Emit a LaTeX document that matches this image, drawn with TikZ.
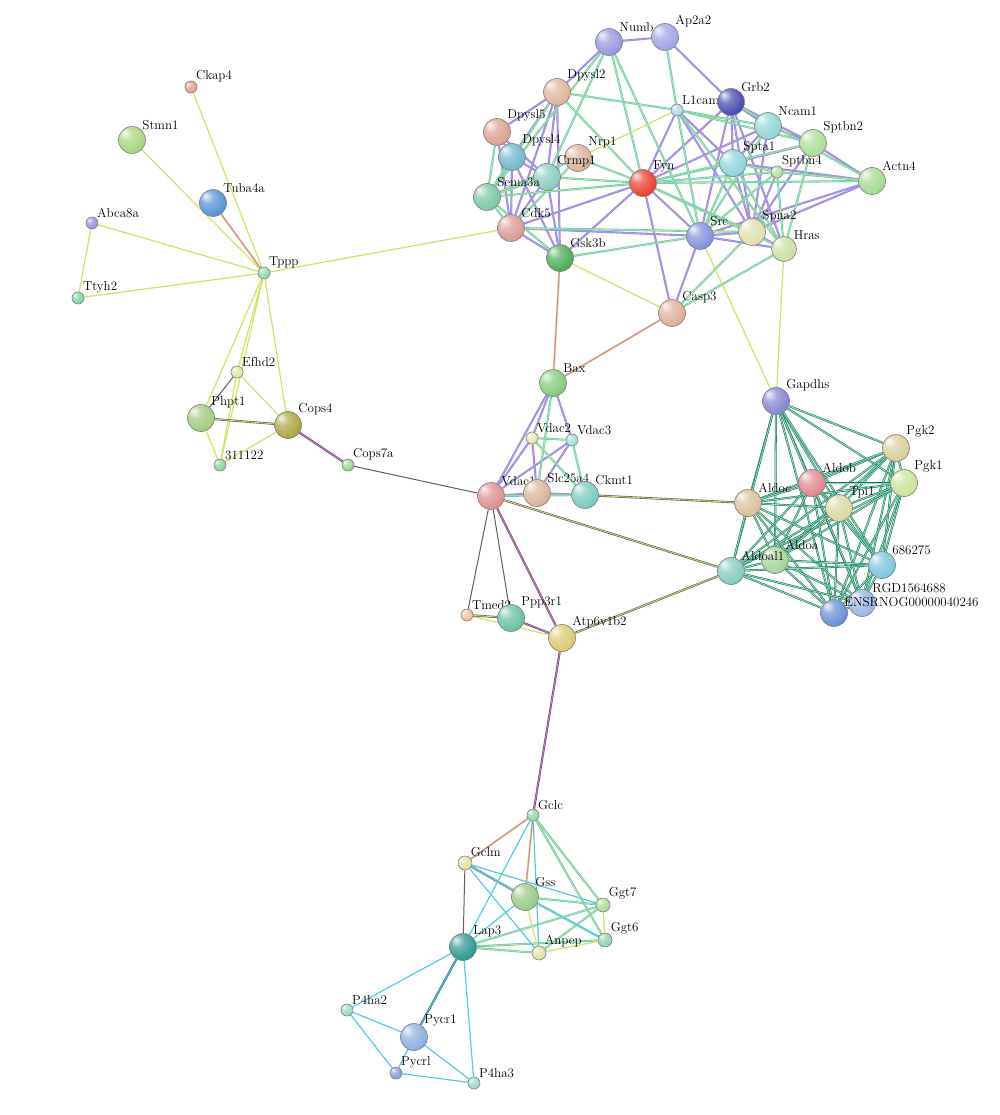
\documentclass[tikz,border=0pt]{standalone}
\usepackage{fontspec}
\usetikzlibrary{backgrounds}

\definecolor{tm}{RGB}{205,228,100}
\definecolor{ex}{RGB}{222,104,222}
\definecolor{db}{RGB}{88,200,222}
\definecolor{co}{RGB}{95,95,95}
\definecolor{gn}{RGB}{40,150,60}
\definecolor{strc}{RGB}{200,200,200}
\pgfdeclareradialshading[strc]{gene}{\pgfqpoint{-14bp}{14bp}}{%
  color(0bp)=(strc!12!white); color(12bp)=(strc!70!white);
  color(30bp)=(strc); color(41bp)=(strc!88!black); color(50bp)=(strc!60!black)}

\tikzset{
  prot/.style={circle,inner sep=0pt,minimum size=27pt,draw=black!50,line width=.6pt,shading=gene},
  mid/.style={prot,minimum size=14pt},
  dot/.style={prot,minimum size=12pt},
  col/.code n args={3}{\definecolor{strc}{RGB}{#1,#2,#3}},
  lab/.style={font=\fontsize{13}{13}\selectfont,inner sep=.5pt},
  one/.style={draw=#1,line width=1.2pt},
  two/.style 2 args={draw=#1,double=#2,line width=.65pt,double distance=.8pt},
  gly/.style={draw=gn!80!black,double=db!70,line width=.55pt,double distance=.9pt}
}

\begin{document}
\begin{tikzpicture}[x=1pt,y=-1pt]
\useasboundingbox (0,0) rectangle (1000,1115);

% neuronal / spectrin cluster
\node [prot,col={150}{150}{222},label={[lab]45:Numb}] (Numb) at (609,42) {};
\node [prot,col={160}{162}{228},label={[lab]45:Ap2a2}] (Ap2a2) at (665,37) {};
\node [prot,col={222}{180}{152},label={[lab]45:Dpysl2}] (Dpysl2) at (557,92) {};
\node [dot,col={175}{212}{232},label={[lab]45:L1cam}] (L1cam) at (677,110) {};
\node [prot,col={70}{72}{175},label={[lab]45:Grb2}] (Grb2) at (731,102) {};
\node [prot,col={145}{212}{212},label={[lab]45:Ncam1}] (Ncam1) at (768,126) {};
\node [prot,col={170}{220}{150},label={[lab]45:Sptbn2}] (Sptbn2) at (813,143) {};
\node [prot,col={165}{218}{145},label={[lab]45:Actn4}] (Actn4) at (872,181) {};
\node [prot,col={218}{160}{142},label={[lab]45:Dpysl5}] (Dpysl5) at (497,132) {};
\node [prot,col={112}{182}{202},label={[lab]45:Dpysl4}] (Dpysl4) at (512,157) {};
\node [prot,col={218}{178}{152},label={[lab]45:Nrp1}] (Nrp1) at (578,158) {};
\node [prot,col={135}{205}{192},label={[lab]45:Crmp1}] (Crmp1) at (547,177) {};
\node [prot,col={122}{198}{162},label={[lab]45:Sema3a}] (Sema3a) at (487,197) {};
\node [prot,col={218}{152}{146},label={[lab]45:Cdk5}] (Cdk5) at (511,228) {};
\node [prot,col={72}{172}{82},label={[lab]45:Gsk3b}] (Gsk3b) at (560,258) {};
\node [prot,col={232}{62}{42},label={[lab]45:Fyn}] (Fyn) at (643,183) {};
\node [prot,col={142}{212}{218},label={[lab]45:Spta1}] (Spta1) at (733,163) {};
\node [dot,col={172}{226}{152},label={[lab]45:Sptbn4}] (Sptbn4) at (777,172) {};
\node [prot,col={132}{142}{222},label={[lab]45:Src}] (Src) at (700,236) {};
\node [prot,col={222}{222}{172},label={[lab]45:Spna2}] (Spna2) at (752,232) {};
\node [prot,minimum size=25pt,col={202}{222}{162},label={[lab]45:Hras}] (Hras) at (784,249) {};
\node [prot,col={222}{172}{152},label={[lab]45:Casp3}] (Casp3) at (672,313) {};

% tubulin cluster
\node [dot,col={232}{152}{142},label={[lab]45:Ckap4}] (Ckap4) at (191,87) {};
\node [prot,col={165}{212}{125},label={[lab]45:Stmn1}] (Stmn1) at (132,140) {};
\node [prot,col={85}{145}{212},label={[lab]45:Tuba4a}] (Tuba4a) at (213,203) {};
\node [dot,col={162}{132}{222},label={[lab]45:Abca8a}] (Abca8a) at (92,223) {};
\node [dot,col={142}{216}{172},label={[lab]45:Tppp}] (Tppp) at (264,273) {};
\node [dot,col={122}{212}{162},label={[lab]45:Ttyh2}] (Ttyh2) at (78,298) {};
\node [dot,col={226}{226}{162},label={[lab]45:Efhd2}] (Efhd2) at (237,372) {};
\node [prot,col={162}{202}{122},label={[lab]45:Phpt1}] (Phpt1) at (201,418) {};
\node [prot,col={172}{162}{62},label={[lab]45:Cops4}] (Cops4) at (288,425) {};
\node [dot,col={132}{212}{152},label={[lab]45:311122}] (R311122) at (220,465) {};
\node [dot,col={152}{212}{142},label={[lab]45:Cops7a}] (Cops7a) at (348,465) {};

% mitochondrial cluster
\node [prot,col={132}{202}{122},label={[lab]45:Bax}] (Bax) at (553,383) {};
\node [dot,col={230}{230}{172},label={[lab]45:Vdac2}] (Vdac2) at (532,438) {};
\node [dot,col={152}{222}{212},label={[lab]45:Vdac3}] (Vdac3) at (572,440) {};
\node [prot,col={222}{142}{142},label={[lab]45:Vdac1}] (Vdac1) at (491,496) {};
\node [prot,col={216}{180}{152},label={[lab]45:Slc25a4}] (Slc25a4) at (537,493) {};
\node [prot,col={122}{202}{192},label={[lab]45:Ckmt1}] (Ckmt1) at (585,495) {};
\node [dot,col={242}{192}{142},label={[lab]45:Tmed2}] (Tmed2) at (467,615) {};
\node [prot,col={102}{192}{162},label={[lab]45:Ppp3r1}] (Ppp3r1) at (511,618) {};
\node [prot,col={216}{202}{112},label={[lab]45:Atp6v1b2}] (Atp6v1b2) at (562,638) {};

% glycolysis cluster
\node [prot,col={132}{132}{212},label={[lab]45:Gapdhs}] (Gapdhs) at (776,401) {};
\node [prot,col={216}{206}{152},label={[lab]45:Pgk2}] (Pgk2) at (896,448) {};
\node [prot,col={202}{226}{152},label={[lab]45:Pgk1}] (Pgk1) at (904,483) {};
\node [prot,col={226}{132}{142},label={[lab]45:Aldob}] (Aldob) at (812,483) {};
\node [prot,col={216}{192}{152},label={[lab]45:Aldoc}] (Aldoc) at (748,503) {};
\node [prot,col={216}{216}{162},label={[lab]45:Tpi1}] (Tpi1) at (839,508) {};
\node [prot,col={162}{212}{152},label={[lab]45:Aldoa}] (Aldoa) at (775,560) {};
\node [prot,col={132}{202}{192},label={[lab]45:Aldoal1}] (Aldoal1) at (731,571) {};
\node [prot,col={122}{196}{222},label={[lab]45:686275}] (N686275) at (882,565) {};
\node [prot,col={152}{182}{226},label={[lab]45:RGD1564688}] (RGD) at (862,603) {};
\node [prot,col={102}{142}{212},label={[lab,yshift=-4pt]45:ENSRNOG00000040246}] (ENS) at (834,613) {};

% glutathione cluster
\node [dot,col={142}{212}{162},label={[lab]45:Gclc}] (Gclc) at (533,815) {};
\node [mid,col={226}{222}{162},label={[lab]45:Gclm}] (Gclm) at (465,863) {};
\node [prot,col={152}{202}{132},label={[lab]45:Gss}] (Gss) at (525,897) {};
\node [mid,col={172}{216}{152},label={[lab]45:Ggt7}] (Ggt7) at (603,905) {};
\node [mid,col={142}{212}{172},label={[lab]45:Ggt6}] (Ggt6) at (605,940) {};
\node [prot,col={42}{152}{142},label={[lab]45:Lap3}] (Lap3) at (463,947) {};
\node [mid,col={222}{226}{162},label={[lab]45:Anpep}] (Anpep) at (539,953) {};
\node [dot,col={152}{216}{202},label={[lab]45:P4ha2}] (P4ha2) at (347,1010) {};
\node [prot,col={142}{172}{222},label={[lab]45:Pycr1}] (Pycr1) at (414,1037) {};
\node [dot,col={132}{152}{212},label={[lab]45:Pycrl}] (Pycrl) at (396,1073) {};
\node [dot,col={152}{216}{202},label={[lab]45:P4ha3}] (P4ha3) at (474,1083) {};

\begin{scope}[on background layer]
% edges: experiments + databases
\foreach \a/\b in {Numb/Ap2a2,Ap2a2/Grb2,Numb/Dpysl2,Dpysl2/Dpysl5,Dpysl2/Dpysl4,Dpysl2/Crmp1,
  Dpysl5/Dpysl4,Dpysl5/Crmp1,Dpysl4/Crmp1,Dpysl4/Cdk5,Dpysl5/Cdk5,Crmp1/Cdk5,Dpysl2/Cdk5,
  Cdk5/Gsk3b,Dpysl2/Gsk3b,Crmp1/Gsk3b,Dpysl4/Gsk3b,Fyn/Src,Fyn/Grb2,Fyn/L1cam,Grb2/Src,
  Grb2/Ncam1,Grb2/Spna2,Grb2/Hras,Src/Spna2,Src/Hras,Spta1/Spna2,Spta1/Sptbn2,Sptbn2/Spna2,
  Sptbn2/Actn4,Spna2/Actn4,Spta1/Actn4,Ncam1/Sptbn2,Ncam1/Spna2,Spna2/Hras,Grb2/Sptbn2,
  Fyn/Ncam1,Cdk5/Src,Fyn/Cdk5,Gsk3b/Fyn,Src/Casp3,Fyn/Casp3,L1cam/Spna2,L1cam/Spta1,
  Ncam1/Spta1,Sptbn4/Spna2,Src/Actn4,Grb2/Spta1,
  Bax/Vdac2,Bax/Vdac3,Bax/Vdac1,Vdac2/Vdac1,Vdac3/Vdac1,Vdac1/Slc25a4,Slc25a4/Ckmt1,
  Vdac2/Slc25a4,Vdac3/Slc25a4}
  \draw [two={ex}{db}] (\a) -- (\b);
% edges: databases + text mining
\foreach \a/\b in {Numb/Fyn,Numb/Crmp1,Numb/Sema3a,Ap2a2/L1cam,Dpysl2/L1cam,Dpysl2/Sema3a,
  Dpysl5/Sema3a,Dpysl4/Sema3a,Crmp1/Sema3a,Sema3a/Cdk5,Sema3a/Gsk3b,Nrp1/Sema3a,Nrp1/Fyn,
  Nrp1/Cdk5,Sema3a/Fyn,Crmp1/Fyn,Dpysl2/Fyn,Fyn/Spta1,Fyn/Sptbn4,Fyn/Spna2,Fyn/Hras,
  Fyn/Actn4,Fyn/Sptbn2,L1cam/Src,L1cam/Ncam1,L1cam/Sptbn2,L1cam/Hras,Ncam1/Src,Spta1/Src,
  Spta1/Hras,Sptbn4/Hras,Sptbn4/Src,Spta1/Sptbn4,Actn4/Sptbn4,Sptbn2/Hras,Grb2/Actn4,
  Cdk5/Spna2,Gsk3b/Src,Hras/Casp3,Spna2/Casp3,Numb/Src,
  Bax/Slc25a4,Vdac2/Vdac3,Vdac2/Ckmt1,Vdac3/Ckmt1,Vdac1/Ckmt1,
  Gclc/Ggt7,Gclc/Ggt6,Gss/Ggt7,Gss/Ggt6,Lap3/Ggt7,Lap3/Anpep,Ggt7/Anpep,Lap3/Ggt6}
  \draw [two={db}{tm}] (\a) -- (\b);
% edges: text mining only
\foreach \a/\b in {Nrp1/L1cam,Gsk3b/Casp3,Src/Gapdhs,Hras/Gapdhs,Tppp/Cdk5,
  Ckap4/Tppp,Stmn1/Tppp,Abca8a/Tppp,Abca8a/Ttyh2,Ttyh2/Tppp,Tppp/Phpt1,Tppp/Efhd2,
  Tppp/R311122,Tppp/Cops4,Efhd2/Cops4,Efhd2/R311122,Phpt1/R311122,R311122/Cops4,
  Tmed2/Atp6v1b2,Gss/Anpep,Ggt6/Anpep,Ggt7/Ggt6}
  \draw [one=tm] (\a) -- (\b);
\foreach \a/\b in {Tuba4a/Tppp,Gsk3b/Bax,Casp3/Bax,Gclc/Gclm,Gclc/Gss}
  \draw [two={tm}{ex}] (\a) -- (\b);
% edges: co-expression
\foreach \a/\b in {Efhd2/Phpt1,Cops7a/Vdac1,Vdac1/Tmed2,Vdac1/Ppp3r1,Gclm/Lap3}
  \draw [draw=co,line width=1pt] (\a) -- (\b);
\foreach \a/\b in {Phpt1/Cops4,Ckmt1/Aldoc,Vdac1/Aldoal1,Atp6v1b2/Aldoal1,Tmed2/Ppp3r1,Gclm/Gss}
  \draw [two={co}{tm}] (\a) -- (\b);
\foreach \a/\b in {Cops4/Cops7a,Vdac1/Atp6v1b2,Ppp3r1/Atp6v1b2,Atp6v1b2/Gclc}
  \draw [two={co}{ex}] (\a) -- (\b);
% glycolysis, all pairs
\foreach \a [count=\i] in {Gapdhs,Pgk2,Pgk1,Aldob,Aldoc,Tpi1,Aldoa,Aldoal1,N686275,RGD,ENS}
  \foreach \b [count=\j] in {Gapdhs,Pgk2,Pgk1,Aldob,Aldoc,Tpi1,Aldoa,Aldoal1,N686275,RGD,ENS}
    {\ifnum\j>\i \draw [gly] (\a) -- (\b); \fi}
% glutathione / proline
\foreach \a/\b in {Gclc/Lap3,Gclc/Anpep,Gclm/Ggt7,Gclm/Ggt6,Gclm/Anpep,Gss/Lap3,
  Lap3/P4ha2,Lap3/P4ha3,P4ha2/Pycr1,P4ha2/Pycrl,Pycr1/Pycrl,Pycr1/P4ha3,Pycrl/P4ha3}
  \draw [one=db] (\a) -- (\b);
\draw [two={db!55!black}{db}] (Lap3) -- (Pycr1);
\end{scope}
\end{tikzpicture}
\end{document}
